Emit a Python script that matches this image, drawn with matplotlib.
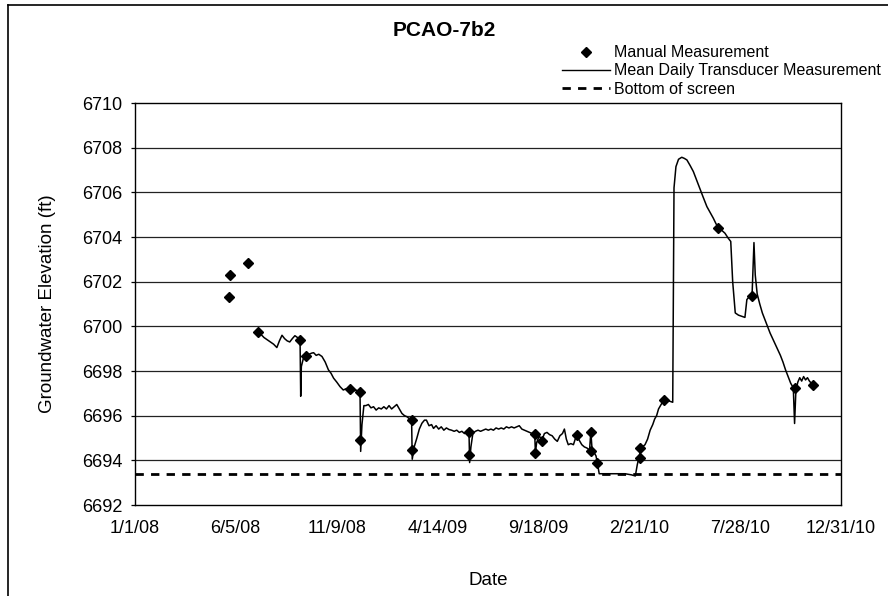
import numpy as np
import pandas as pd
import matplotlib
matplotlib.use('Agg')
import matplotlib.pyplot as plt
from matplotlib.lines import Line2D

plt.rcParams['font.family'] = ['Liberation Sans', 'DejaVu Sans']

start = pd.Timestamp('2008-01-01')

# Manual measurements: days since 1/1/08, elevation (ft)
manual_day = [146, 147, 176, 190, 256, 265, 333, 349, 349, 429, 429, 518, 518,
              621, 621, 631, 685, 708, 708, 717, 783, 783, 821, 905, 957, 1023, 1052]
manual_elev = [6701.3, 6702.3, 6702.85, 6699.75, 6699.4, 6698.65, 6697.2, 6697.05,
               6694.9, 6695.8, 6694.48, 6695.28, 6694.25, 6695.2, 6694.35, 6694.85,
               6695.15, 6695.28, 6694.4, 6693.88, 6694.55, 6694.1, 6696.7, 6704.42,
               6701.35, 6697.22, 6697.38]

# Mean daily transducer record: days since 1/1/08, elevation (ft)
trans_day = [190, 195, 200, 205, 210, 215, 220, 224, 228, 232, 236, 240, 244, 248, 252, 256,
             257, 258, 261, 266, 270, 274, 277, 281, 285, 290, 295, 300, 304, 308, 313, 318,
             323, 327, 331, 335, 339, 343, 347, 349, 350, 352, 355, 358, 362, 366, 370, 374,
             378, 382, 386, 390, 394, 398, 402, 406, 410, 414, 418, 422, 426, 429, 430, 433,
             437, 441, 445, 449, 452, 456, 460, 463, 467, 471, 475, 479, 483, 487, 491, 495,
             499, 503, 507, 511, 515, 518, 519, 521, 524, 528, 532, 536, 540, 544, 548, 552,
             556, 560, 564, 568, 572, 576, 580, 584, 588, 592, 596, 600, 604, 608, 612, 616,
             620, 621, 623, 627, 631, 635, 639, 643, 647, 651, 655, 659, 663, 666, 669, 672,
             676, 680, 685, 689, 693, 697, 701, 705, 707, 709, 712, 715, 717, 720, 730, 745,
             760, 770, 776, 779, 783, 787, 791, 795, 799, 803, 806, 809, 812, 815, 818, 821,
             825, 829, 834, 836, 839, 843, 848, 852, 856, 861, 866, 871, 876, 881, 887, 892,
             897, 901, 905, 910, 915, 920, 924, 927, 931, 936, 941, 946, 949, 952, 955, 957,
             960, 962, 965, 969, 973, 977, 981, 985, 989, 993, 997, 1001, 1005, 1009, 1013,
             1017, 1021, 1023, 1025, 1028, 1031, 1034, 1037, 1040, 1043, 1046, 1049, 1052]
trans_elev = [6699.75, 6699.65, 6699.5, 6699.4, 6699.3, 6699.2, 6699.05, 6699.35, 6699.6,
              6699.45, 6699.35, 6699.3, 6699.45, 6699.58, 6699.5, 6699.4,
              6696.87, 6698.2, 6698.55, 6698.65, 6698.75, 6698.8, 6698.82, 6698.7, 6698.75,
              6698.65, 6698.4, 6698.05, 6697.9, 6697.68, 6697.5, 6697.3,
              6697.15, 6697.2, 6697.1, 6697.18, 6697.1, 6697.15, 6697.05, 6697.05, 6694.4,
              6695.6, 6696.45, 6696.45, 6696.5, 6696.35, 6696.4, 6696.25,
              6696.35, 6696.3, 6696.4, 6696.3, 6696.45, 6696.3, 6696.4, 6696.5, 6696.3,
              6696.1, 6696.0, 6695.95, 6695.85, 6695.8, 6694.05, 6694.6,
              6694.98, 6695.4, 6695.66, 6695.8, 6695.8, 6695.55, 6695.6, 6695.43, 6695.55,
              6695.4, 6695.5, 6695.35, 6695.45, 6695.38, 6695.35, 6695.3,
              6695.35, 6695.25, 6695.3, 6695.2, 6695.25, 6695.3, 6693.9, 6694.6, 6695.2,
              6695.3, 6695.35, 6695.3, 6695.35, 6695.4, 6695.35, 6695.4,
              6695.35, 6695.45, 6695.4, 6695.45, 6695.4, 6695.5, 6695.45, 6695.5, 6695.45,
              6695.5, 6695.55, 6695.4, 6695.35, 6695.3, 6695.25, 6695.2,
              6695.15, 6694.35, 6694.8, 6695.1, 6694.9, 6695.2, 6695.25, 6695.15, 6695.1,
              6694.95, 6694.85, 6695.1, 6695.2, 6695.4, 6694.95, 6694.7,
              6694.75, 6694.7, 6695.15, 6694.9, 6694.7, 6694.6, 6694.55, 6694.45, 6695.28,
              6694.45, 6694.35, 6694.2, 6693.9, 6693.4, 6693.4, 6693.4,
              6693.4, 6693.35, 6693.3, 6693.8, 6694.3, 6694.6, 6694.7, 6694.95, 6695.35,
              6695.6, 6695.85, 6696.0, 6696.3, 6696.45, 6696.6, 6696.75,
              6696.7, 6696.65, 6696.6, 6706.2, 6707.15, 6707.48, 6707.57, 6707.52, 6707.45,
              6707.2, 6706.93, 6706.55, 6706.18, 6705.8, 6705.36, 6705.1,
              6704.84, 6704.6, 6704.4, 6704.3, 6704.17, 6703.95, 6703.8, 6702.0, 6700.6,
              6700.5, 6700.45, 6700.4, 6701.2, 6701.3, 6701.4, 6701.35,
              6703.75, 6702.3, 6701.45, 6701.0, 6700.6, 6700.3, 6700.0, 6699.7, 6699.45,
              6699.2, 6698.95, 6698.7, 6698.4, 6698.05, 6697.75,
              6697.45, 6697.25, 6695.65, 6697.1, 6697.5, 6697.7, 6697.55, 6697.75, 6697.6,
              6697.7, 6697.55, 6697.45, 6697.38]

screen_bottom = 6693.38

tick_dates = ['2008-01-01', '2008-06-05', '2008-11-09', '2009-04-14',
              '2009-09-18', '2010-02-21', '2010-07-28', '2010-12-31']
tick_labels = ['1/1/08', '6/5/08', '11/9/08', '4/14/09',
               '9/18/09', '2/21/10', '7/28/10', '12/31/10']
y_ticks = np.arange(6692, 6711, 2)

fig = plt.figure(figsize=(8.88, 5.96), dpi=100)
ax = fig.add_axes([135/888, 1 - 505/596, 706/888, 402/596])

manual_x = start + pd.to_timedelta(manual_day, unit='D')
trans_x = start + pd.to_timedelta(trans_day, unit='D')
xmin, xmax = pd.Timestamp('2008-01-01'), pd.Timestamp('2010-12-31')

for yv in y_ticks[1:-1]:
    ax.axhline(yv, color='#222222', lw=0.9, zorder=1)

ax.plot([xmin, xmax], [screen_bottom, screen_bottom], color='black', lw=2,
        dashes=(3, 2.6), zorder=2)
ax.plot(trans_x, trans_elev, color='black', lw=1.1, zorder=3)
ax.plot(manual_x, manual_elev, linestyle='none', marker='D', ms=5.5,
        color='black', zorder=4)

ax.set_xlim(xmin, xmax)
ax.set_ylim(6692, 6710)
ax.set_yticks(y_ticks)
ax.set_xticks(pd.to_datetime(tick_dates))
ax.set_xticklabels(tick_labels)
ax.tick_params(axis='y', direction='out', length=3, width=0.9, labelsize=13, pad=6)
ax.tick_params(axis='x', direction='out', length=0, labelsize=13, pad=11)
for s in ax.spines.values():
    s.set_linewidth(1.0)

ax.set_ylabel('Groundwater Elevation (ft)', fontsize=13.5, labelpad=19)
ax.set_xlabel('Date', fontsize=13.5, labelpad=25)

fig.text(0.50, 1 - 31/596, 'PCAO-7b2', ha='center', va='center',
         fontsize=15, fontweight='bold')

handles = [Line2D([], [], linestyle='none', marker='D', ms=5, color='black'),
           Line2D([], [], color='black', lw=1.0),
           Line2D([], [], color='black', lw=2, dashes=(3, 2.6))]
labels = ['Manual Measurement', 'Mean Daily Transducer Measurement', 'Bottom of screen']
fig.legend(handles, labels, loc='upper right', bbox_to_anchor=(1.005, 1 - 34/596),
           frameon=False, fontsize=11.5, handlelength=3.0, handletextpad=0.3,
           labelspacing=0.2, borderpad=0.2)

# chart area border (left and top edges visible)
fig.add_artist(plt.Line2D([8/888, 8/888], [0, 1 - 5/596], color='black', lw=1.2,
                          transform=fig.transFigure))
fig.add_artist(plt.Line2D([8/888, 1], [1 - 5/596, 1 - 5/596], color='black', lw=1.2,
                          transform=fig.transFigure))

fig.savefig('out.png', dpi=100)
